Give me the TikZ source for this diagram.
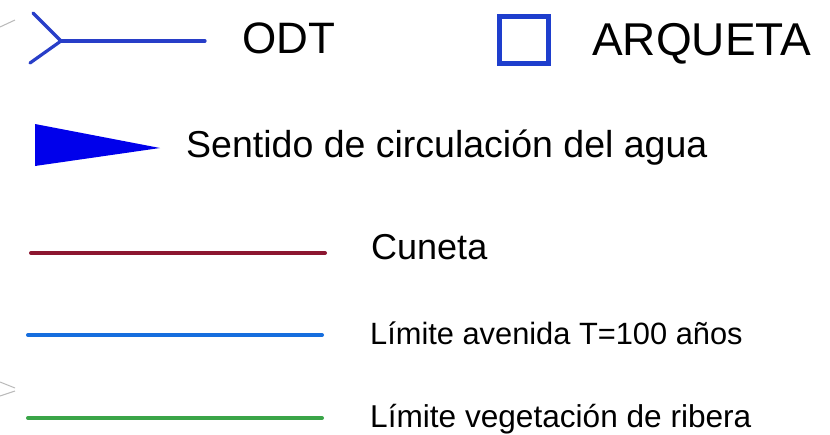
\documentclass[tikz,border=0pt]{standalone}
\usepackage{fontspec}
\setmainfont{Liberation Sans}
\definecolor{odtblue}{RGB}{40,62,200}
\definecolor{boxblue}{RGB}{30,62,205}
\definecolor{flowblue}{RGB}{0,0,235}
\definecolor{cunetared}{RGB}{140,22,48}
\definecolor{aveblue}{RGB}{22,110,222}
\definecolor{vegegreen}{RGB}{58,165,72}
\definecolor{artgray}{RGB}{185,185,185}
\tikzset{
  lbl/.style={anchor=base west, inner sep=0pt, text=black},
  sample/.style={line width=4pt, line cap=round},
  artifact/.style={draw=artgray, line width=1pt}
}
\begin{document}
\begin{tikzpicture}[x=1pt,y=-1pt]
\useasboundingbox[fill=white] (0,0) rectangle (830,434);
% faint artefacts at the left edge
\coordinate (g1a) at (0,27); \coordinate (g1b) at (15,20);
\coordinate (g2a) at (0,382); \coordinate (g2b) at (15,388);
\coordinate (g3a) at (0,396); \coordinate (g3b) at (15,391);
\draw[artifact] (g1a) -- (g1b);
\draw[artifact] (g2a) -- (g2b);
\draw[artifact] (g3a) -- (g3b);
% ODT symbol
\coordinate (odtU) at (33,13);
\coordinate (odtJ) at (61,41);
\coordinate (odtD) at (30,63);
\coordinate (odtE) at (205,41);
\draw[odtblue, line width=3.2pt, line cap=round, line join=round] (odtU) -- (odtJ) -- (odtD);
\draw[odtblue, line width=3.2pt, line cap=round] (odtJ) -- (odtE);
\node[lbl, font=\fontsize{44}{46}\selectfont] (odt) at (242,53) {ODT};
% ARQUETA symbol
\node[draw=boxblue, line width=4.5pt, minimum width=49pt, minimum height=47pt, inner sep=0pt] (arq) at (524,40) {};
\node[lbl, font=\fontsize{46}{48}\selectfont] (arqt) at (592,55) {ARQUETA};
% flow direction
\coordinate (t1) at (35,124);
\coordinate (t2) at (35,166);
\coordinate (t3) at (160,148);
\fill[flowblue] (t1) -- (t3) -- (t2) -- cycle;
\node[lbl, font=\fontsize{37.5}{39}\selectfont] (sent) at (186,157) {Sentido de circulación del agua};
% Cuneta
\coordinate (c1) at (31,253); \coordinate (c2) at (325,253);
\draw[sample, cunetared] (c1) -- (c2);
\node[lbl, font=\fontsize{36}{38}\selectfont] (cun) at (371,259) {Cuneta};
% Limite avenida
\coordinate (a1) at (28,335); \coordinate (a2) at (322,335);
\draw[sample, aveblue] (a1) -- (a2);
\node[lbl, font=\fontsize{30.8}{33}\selectfont] (ave) at (370,344) {Límite avenida T=100 años};
% Limite vegetacion
\coordinate (v1) at (28,418); \coordinate (v2) at (322,418);
\draw[sample, vegegreen] (v1) -- (v2);
\node[lbl, font=\fontsize{31.6}{33}\selectfont] (veg) at (370,427) {Límite vegetación de ribera};
\end{tikzpicture}
\end{document}
